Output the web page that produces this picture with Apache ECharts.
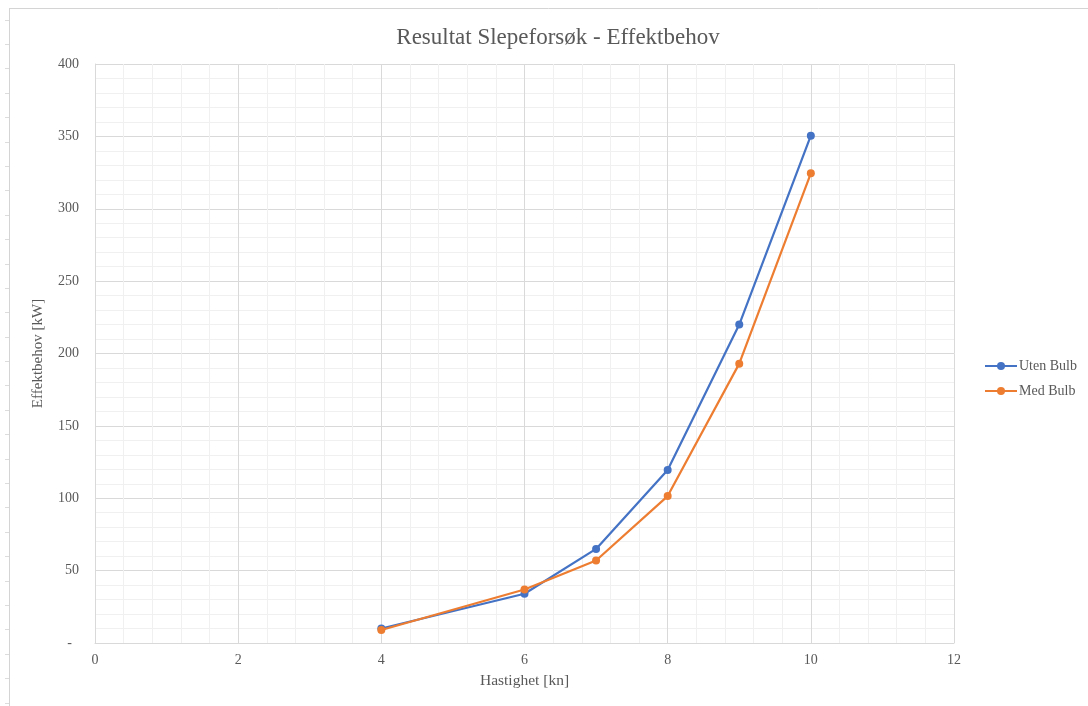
<!DOCTYPE html>
<html>
<head>
<meta charset="utf-8">
<script src="https://cdn.jsdelivr.net/npm/echarts@6/dist/echarts.min.js"></script>
<style>
  html, body { margin: 0; padding: 0; background: #fff; }
  #chart { width: 1088px; height: 706px; }
</style>
</head>
<body>
<div id="chart"></div>
<script>
// Towing test results: power demand vs. speed, with and without bulb
const speeds = [4, 6, 7, 8, 9, 10];
const utenBulb = [10, 34, 65, 119.5, 220, 350.5];
const medBulb = [9, 37, 57, 101.5, 193, 324.5];
const seriesNames = ['Uten Bulb', 'Med Bulb'];
const titleText = 'Resultat Slepeforsøk - Effektbehov';
const xName = 'Hastighet [kn]';
const yName = 'Effektbehov [kW]';

const FONT = '"Liberation Serif", "Times New Roman", serif';
const TXT = '#595959';
const MAJOR = '#d9d9d9';
const MINOR = '#f0f0f0';

const chart = echarts.init(document.getElementById('chart'), null, { renderer: 'canvas' });

// worksheet frame lines around the chart object
const frame = [
  { type: 'line', shape: { x1: 9, y1: 8.5, x2: 1088, y2: 8.5 }, style: { stroke: '#d4d4d4', lineWidth: 1 } },
  { type: 'line', shape: { x1: 9.5, y1: 8, x2: 9.5, y2: 706 }, style: { stroke: '#d4d4d4', lineWidth: 1 } }
];
for (let y = 19.5; y < 706; y += 24.4) {
  frame.push({ type: 'line', shape: { x1: 5, y1: Math.round(y) + 0.5, x2: 9, y2: Math.round(y) + 0.5 }, style: { stroke: '#dcdcdc', lineWidth: 1 } });
}

const mk = (arr) => speeds.map((s, i) => [s, arr[i]]);

chart.setOption({
  backgroundColor: '#ffffff',
  animation: false,
  textStyle: { fontFamily: FONT },
  graphic: frame,
  title: {
    text: titleText,
    left: 553,
    textAlign: 'center',
    top: 21,
    textStyle: { fontFamily: FONT, fontSize: 23, fontWeight: 'normal', color: TXT }
  },
  legend: {
    orient: 'vertical',
    left: 979,
    top: 354,
    itemWidth: 32,
    itemHeight: 10,
    itemGap: 11,
    data: seriesNames,
    textStyle: { fontFamily: FONT, fontSize: 14, color: TXT, padding: [0, 0, 0, -3] }
  },
  grid: { left: 95, right: 134, top: 64, bottom: 63, containLabel: false },
  xAxis: {
    type: 'value',
    min: 0, max: 12, interval: 2,
    name: xName,
    nameLocation: 'middle',
    nameGap: 30,
    nameTextStyle: { fontFamily: FONT, fontSize: 15.5, color: TXT },
    axisLine: { show: true, lineStyle: { color: MAJOR } },
    axisTick: { show: false },
    axisLabel: { fontFamily: FONT, fontSize: 14, color: TXT, margin: 10 },
    splitLine: { show: true, lineStyle: { color: MAJOR } },
    minorTick: { show: false, splitNumber: 5 },
    minorSplitLine: { show: true, lineStyle: { color: MINOR } }
  },
  yAxis: {
    type: 'value',
    min: 0, max: 400, interval: 50,
    name: yName,
    nameLocation: 'middle',
    nameGap: 49,
    nameTextStyle: { fontFamily: FONT, fontSize: 15, color: TXT },
    axisLine: { show: true, lineStyle: { color: MAJOR } },
    axisTick: { show: false },
    axisLabel: {
      fontFamily: FONT, fontSize: 14, color: TXT, margin: 16,
      formatter: (v) => (v === 0 ? '-  ' : String(v))
    },
    splitLine: { show: true, lineStyle: { color: MAJOR } },
    minorTick: { show: false, splitNumber: 5 },
    minorSplitLine: { show: true, lineStyle: { color: MINOR } }
  },
  series: [
    {
      name: seriesNames[0],
      type: 'line',
      data: mk(utenBulb),
      smooth: false,
      symbol: 'circle',
      symbolSize: 8,
      color: '#4472c4',
      lineStyle: { width: 2.2, color: '#4472c4' },
      itemStyle: { color: '#4472c4' },
      z: 3
    },
    {
      name: seriesNames[1],
      type: 'line',
      data: mk(medBulb),
      smooth: false,
      symbol: 'circle',
      symbolSize: 8,
      color: '#ed7d31',
      lineStyle: { width: 2.2, color: '#ed7d31' },
      itemStyle: { color: '#ed7d31' },
      z: 4
    }
  ]
});
</script>
</body>
</html>
